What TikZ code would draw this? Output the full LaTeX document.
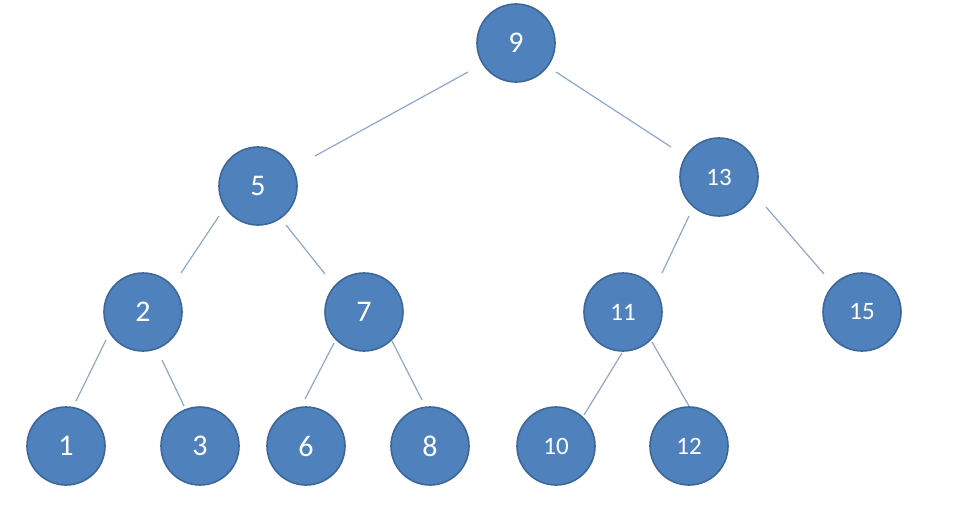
\documentclass[tikz,border=0pt]{standalone}
\usepackage{fontspec}
\setmainfont{Carlito}
\usetikzlibrary{calc}
\definecolor{nodefill}{HTML}{4F81BD}
\definecolor{nodeedge}{HTML}{3E6799}
\definecolor{edgecol}{HTML}{8EA7CC}
\begin{document}
\begin{tikzpicture}[x=1pt,y=-1pt,
  tnode/.style={circle,fill=nodefill,draw=nodeedge,line width=1.6pt,minimum size=78pt,inner sep=0pt,text=white,font=\fontsize{30}{33}\selectfont},
  tnodeb/.style={tnode,font=\fontsize{25}{28}\selectfont},
  edge/.style={draw=edgecol,line width=1.2pt}]
\useasboundingbox (0,0) rectangle (968,525);
\node[tnode]  (n9)  at (516,43) {9};
\node[tnode]  (n5)  at (258,186) {5};
\node[tnodeb] (n13) at (719,177) {13};
\node[tnode]  (n2)  at (143,312) {2};
\node[tnode]  (n7)  at (364,312) {7};
\node[tnodeb] (n11) at (623,312) {11};
\node[tnodeb] (n15) at (862,312) {15};
\node[tnode]  (n1)  at (66,446) {1};
\node[tnode]  (n3)  at (200,446) {3};
\node[tnode]  (n6)  at (306,446) {6};
\node[tnode]  (n8)  at (430,446) {8};
\node[tnodeb] (n10) at (556,446) {10};
\node[tnodeb] (n12) at (689,446) {12};
\draw[edge] ($(n9)+(-48,29)$) -- ($(n5)+(57,-30)$);
\draw[edge] ($(n9)+(40,29)$) -- ($(n13)+(-48,-30)$);
\draw[edge] ($(n5)+(-39,30)$) -- ($(n2)+(38,-39)$);
\draw[edge] ($(n5)+(28,39)$) -- ($(n7)+(-39,-38)$);
\draw[edge] ($(n13)+(-30,39)$) -- ($(n11)+(39,-39)$);
\draw[edge] ($(n13)+(47,30)$) -- ($(n15)+(-38,-38)$);
\draw[edge] ($(n2)+(-37,28)$) -- ($(n1)+(10,-45)$);
\draw[edge] ($(n2)+(19,48)$) -- ($(n3)+(-16,-40)$);
\draw[edge] ($(n7)+(-30,31)$) -- ($(n6)+(-1,-47)$);
\draw[edge] ($(n7)+(28,29)$) -- ($(n8)+(-8,-46)$);
\draw[edge] ($(n11)+(-1,41)$) -- ($(n10)+(28,-31)$);
\draw[edge] ($(n11)+(29,30)$) -- ($(n12)+(0,-40)$);
\end{tikzpicture}
\end{document}
